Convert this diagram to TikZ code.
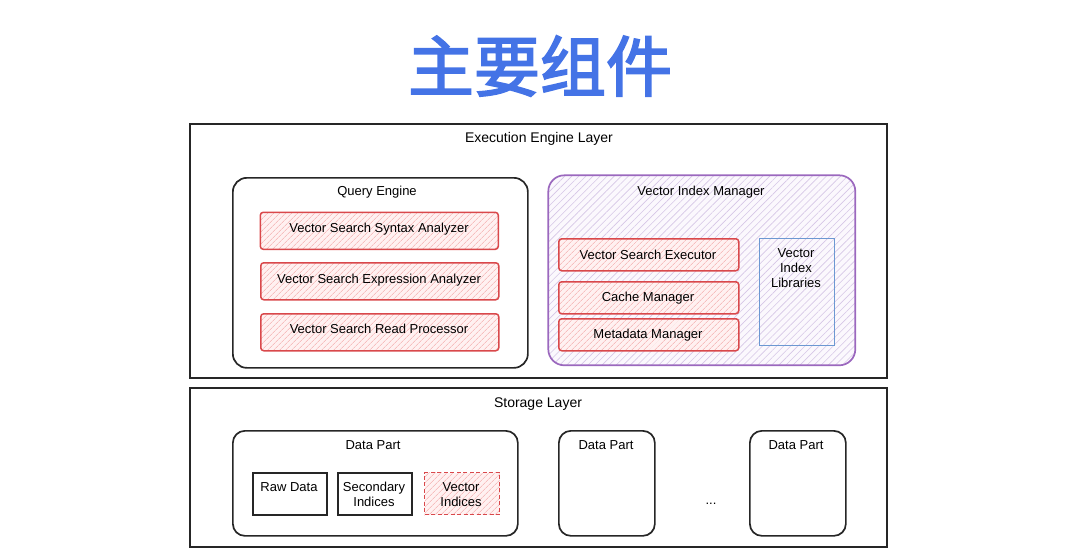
\documentclass[tikz,border=0pt]{standalone}
\usepackage{fontspec}
\setmainfont{Liberation Sans}
\newfontfamily\cjk{Noto Sans CJK SC}[FakeBold=2.6]
\usetikzlibrary{patterns.meta}
\definecolor{titleblue}{HTML}{4473E6}
\definecolor{redline}{HTML}{D9484B}
\definecolor{redhatch}{HTML}{F2A3A3}
\definecolor{redbg}{HTML}{FFF1F1}
\definecolor{purpleline}{HTML}{9B68BE}
\definecolor{purplehatch}{HTML}{D6C6E6}
\definecolor{purplebg}{HTML}{FBF8FD}
\definecolor{blueline}{HTML}{6C98D2}
\tikzset{
  layerbox/.style={draw=black!85, line width=1.7pt, anchor=north west, inner sep=0pt},
  groupbox/.style={draw=black!85, line width=1.7pt, rounded corners=14pt, anchor=north west, inner sep=0pt},
  mgrbox/.style={draw=purpleline, line width=1.7pt, rounded corners=16pt, anchor=north west, inner sep=0pt,
     preaction={fill=purplebg}, pattern={Lines[angle=45,distance=5pt,line width=0.6pt]}, pattern color=purplehatch},
  redbox/.style={draw=redline, line width=1.5pt, rounded corners=3pt, anchor=north west, inner sep=0pt,
     preaction={fill=redbg}, pattern={Lines[angle=45,distance=4pt,line width=0.6pt]}, pattern color=redhatch},
  libbox/.style={draw=blueline, line width=1.4pt, anchor=north west, inner sep=0pt},
  plainbox/.style={draw=black!85, line width=1.6pt, anchor=north west, inner sep=0pt},
  dashbox/.style={draw=redline, line width=1.4pt, dash pattern=on 4pt off 2.5pt, anchor=north west, inner sep=0pt,
     preaction={fill=redbg}, pattern={Lines[angle=45,distance=4pt,line width=0.6pt]}, pattern color=redhatch},
  txt/.style={inner sep=0pt, font=\fontsize{13}{15}\selectfont, align=center},
  big/.style={inner sep=0pt, font=\fontsize{14}{16}\selectfont},
}
\begin{document}
\begin{tikzpicture}[x=1pt,y=-1pt]
\useasboundingbox (0,0) rectangle (1080,557);
% title
\node[inner sep=0pt, text=titleblue, font=\cjk\fontsize{66}{70}\selectfont] (title) at (540,66) {主要组件};

% execution engine layer
\node[layerbox, minimum width=697pt, minimum height=254pt] (exec) at (189,123) {};
\node[big] (execlbl) at (539,139) {Execution Engine Layer};

\node[groupbox, minimum width=295pt, minimum height=190pt] (qe) at (232,177) {};
\node[txt] (qelbl) at (377,192) {Query Engine};
\node[redbox, minimum width=238pt, minimum height=37pt] (syn) at (260,212) {};
\node[txt] (synt) at (379,229) {Vector Search Syntax Analyzer};
\node[redbox, minimum width=238pt, minimum height=37pt] (expr) at (260,262) {};
\node[txt] (exprt) at (379,280) {Vector Search Expression Analyzer};
\node[redbox, minimum width=238pt, minimum height=37pt] (read) at (260,313) {};
\node[txt] (readt) at (379,329) {Vector Search Read Processor};

\node[mgrbox, minimum width=307pt, minimum height=190pt] (vim) at (548,175) {};
\node[txt] (vimlbl) at (701,192) {Vector Index Manager};
\node[redbox, minimum width=180pt, minimum height=32pt] (vse) at (558,238) {};
\node[txt] (vset) at (648,255) {Vector Search Executor};
\node[redbox, minimum width=180pt, minimum height=32pt] (cm) at (558,281) {};
\node[txt] (cmt) at (648,298) {Cache Manager};
\node[redbox, minimum width=180pt, minimum height=32pt] (mm) at (558,318) {};
\node[txt] (mmt) at (648,335) {Metadata Manager};
\node[libbox, minimum width=75pt, minimum height=107pt] (lib) at (759,238) {};
\node[txt, anchor=north] (libt) at (796,248) {Vector\\Index\\Libraries};

% storage layer
\node[layerbox, minimum width=697pt, minimum height=159pt] (stor) at (189,387) {};
\node[big] (storlbl) at (538,404) {Storage Layer};

\node[groupbox, rounded corners=12pt, minimum width=285pt, minimum height=105pt] (dp1) at (232,430) {};
\node[txt] (dp1lbl) at (373,445) {Data Part};
\node[plainbox, minimum width=74pt, minimum height=42pt] (raw) at (252,472) {};
\node[txt, anchor=north] (rawt) at (289,482) {Raw Data};
\node[plainbox, minimum width=74pt, minimum height=42pt] (sec) at (337,472) {};
\node[txt, anchor=north] (sect) at (374,482) {Secondary\\Indices};
\node[dashbox, minimum width=75pt, minimum height=42pt] (vi) at (424,472) {};
\node[txt, anchor=north] (vit) at (461,482) {Vector\\Indices};

\node[groupbox, rounded corners=12pt, minimum width=96pt, minimum height=105pt] (dp2) at (558,430) {};
\node[txt] (dp2lbl) at (606,445) {Data Part};
\node[groupbox, rounded corners=12pt, minimum width=96pt, minimum height=105pt] (dp3) at (749,430) {};
\node[txt] (dp3lbl) at (796,445) {Data Part};
\node[txt] (dots) at (711,504) {...};
\end{tikzpicture}
\end{document}
